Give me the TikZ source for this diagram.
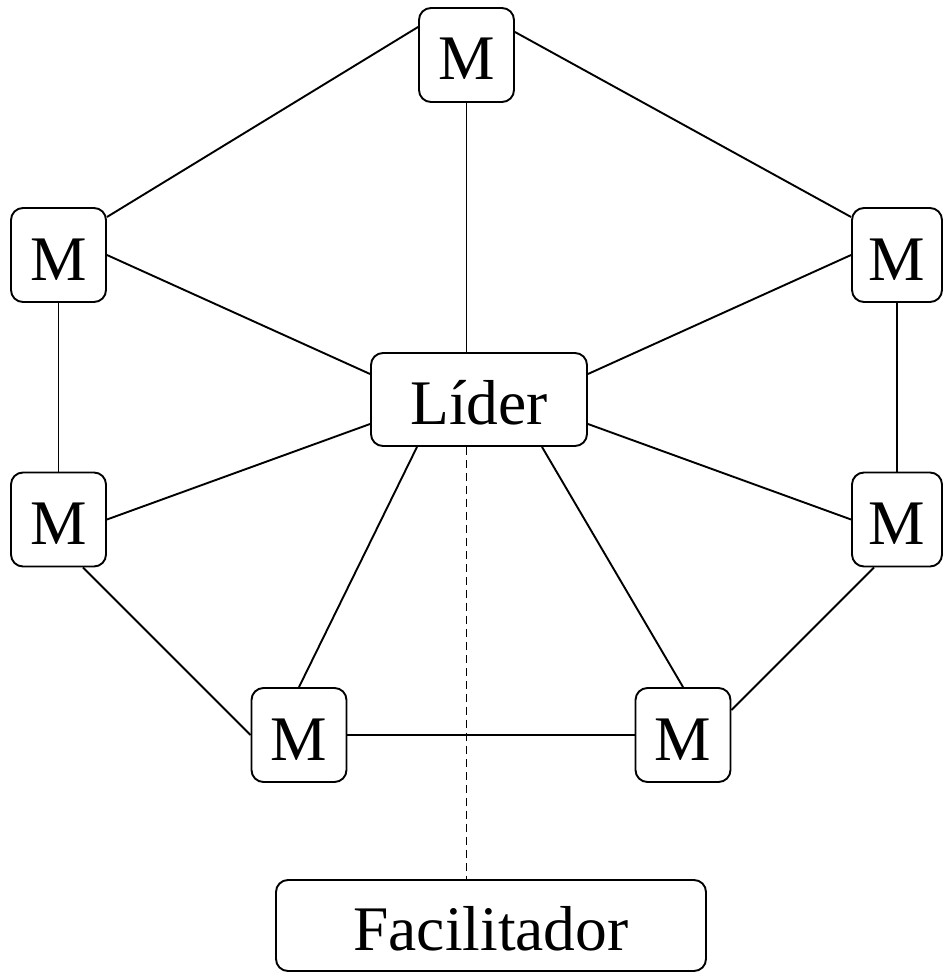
\documentclass[tikz,border=0pt]{standalone}
\usepackage{fontspec}
\setmainfont{Liberation Serif}
\usetikzlibrary{calc}
\begin{document}
\begin{tikzpicture}[x=1pt,y=-1pt,
  box/.style={draw,line width=1.9pt,rounded corners=12pt,inner sep=0pt,
    font=\fontsize{63.5pt}{70pt}\selectfont,text height=50pt,text depth=0pt},
  mbox/.style={box,minimum width=95pt,minimum height=94pt},
  link/.style={line width=1.9pt},
  dlink/.style={line width=1.9pt,dash pattern=on 8pt off 5pt}]
\useasboundingbox (0,0) rectangle (943,973);
\node[mbox] (T) at (466.5,55) {M};
\node[mbox] (LU) at (58.5,255) {M};
\node[mbox,minimum width=90pt] (RU) at (897,255) {M};
\node[mbox] (LL) at (58.5,519.5) {M};
\node[mbox,minimum width=90pt] (RL) at (897,519.5) {M};
\node[mbox] (BL) at (299,735) {M};
\node[mbox] (BR) at (683,735) {M};
\node[box,minimum width=216pt,minimum height=93pt] (L) at (479,399.5) {Líder};
\node[box,minimum width=430pt,minimum height=91pt] (F) at (491,925.5) {Facilitador};
% outer ring
\draw[link] ($(T.west)+(0,-28)$) -- ($(LU.east)+(0,-38)$);
\draw[link] ($(T.east)+(0,-23)$) -- ($(RU.west)+(0,-38)$);
\draw[link] (LU.south) -- (LL.north);
\draw[link] (RU.south) -- (RL.north);
\draw[link] ($(LL.south)+(24.5,0)$) -- (BL.west);
\draw[link] ($(RL.south)+(-23,0)$) -- ($(BR.east)+(0,-25)$);
\draw[link] (BL.east) -- (BR.west);
% spokes
\draw[link] (T.south) -- (T.south |- L.north);
\draw[link] (LU.east) -- ($(L.west)+(0,-25.5)$);
\draw[link] (RU.west) -- ($(L.east)+(0,-25.5)$);
\draw[link] (LL.east) -- ($(L.west)+(0,24.5)$);
\draw[link] (RL.west) -- ($(L.east)+(0,24.5)$);
\draw[link] ($(L.south)+(-62,0)$) -- (BL.north);
\draw[link] ($(L.south)+(63,0)$) -- (BR.north);
% facilitator
\draw[dlink] (T.center |- L.south) -- (T.center |- F.north);
\end{tikzpicture}
\end{document}
